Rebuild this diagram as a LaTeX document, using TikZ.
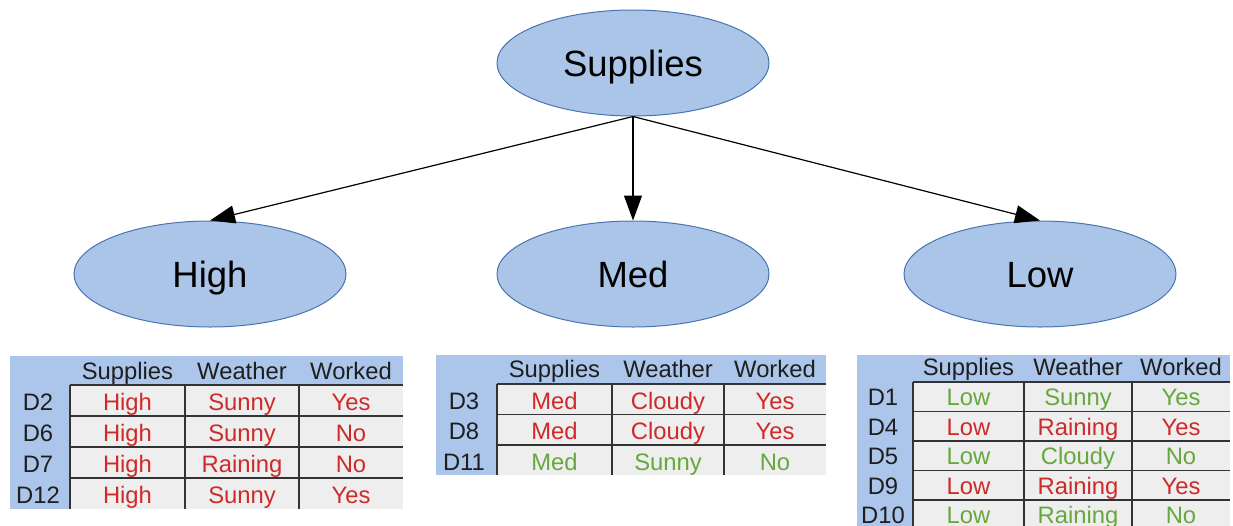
\documentclass[tikz,border=0pt]{standalone}
\usepackage{fontspec}
\setmainfont{Liberation Sans}
\usetikzlibrary{shapes.geometric,arrows.meta}
\definecolor{ellfill}{HTML}{ABC5E8}
\definecolor{elldraw}{HTML}{4A74B0}
\definecolor{tblue}{HTML}{ABC6EA}
\definecolor{cellgrey}{HTML}{EEEEEE}
\definecolor{rd}{HTML}{CE2A2A}
\definecolor{gn}{HTML}{66A83E}
\definecolor{txt}{HTML}{1E1E1E}
\tikzset{
  ell/.style={ellipse,draw=elldraw,fill=ellfill,line width=1pt,minimum width=272pt,minimum height=106pt,inner sep=0pt,
    font=\fontsize{36.5}{40}\selectfont,text=black,text height=26pt,text depth=0pt},
  conn/.style={line width=1.2pt,draw=black,-{Triangle[length=25pt,width=18pt]}},
  gridl/.style={line width=1.3pt,draw=black!80},
  hd/.style={anchor=base,inner sep=0pt,font=\fontsize{23.8}{26}\selectfont,text=txt},
  cl/.style={anchor=base,inner sep=0pt,font=\fontsize{23.8}{26}\selectfont}
}
\begin{document}
\begin{tikzpicture}[x=1pt,y=1pt]
\useasboundingbox (0,0) rectangle (1233,-525);
\clip (0,0) rectangle (1233,-525);
% ellipses
\node[ell] (sup) at (633,-63) {Supplies};
\node[ell] (high) at (210,-274) {High};
\node[ell] (med) at (633,-274) {Med};
\node[ell] (low) at (1040,-274) {Low};
\draw[conn] (sup.south) -- (high.north);
\draw[conn] (sup.south) -- (med.north);
\draw[conn] (sup.south) -- (low.north);
% ---------- table 1 ----------
\fill[tblue] (10,-356) rectangle (403,-509);
\fill[cellgrey] (70,-385) rectangle (403,-509);
\foreach \k in {0,...,3} \draw[gridl] (70,{-385-31*\k}) -- (403,{-385-31*\k});
\foreach \x in {70,185,299} \draw[gridl] (\x,-385) -- (\x,-509);
\node[hd] (t1hs) at (127.5,-379) {Supplies};
\node[hd] (t1hw) at (242,-379) {Weather};
\node[hd] (t1hk) at (351,-379) {Worked};
\foreach \lab/\a/\b/\c/\ka/\kb/\kc [count=\i] in {D2/High/Sunny/Yes/rd/rd/rd, D6/High/Sunny/No/rd/rd/rd, D7/High/Raining/No/rd/rd/rd, D12/High/Sunny/Yes/rd/rd/rd}{
  \pgfmathsetmacro\y{-385-31*(\i-1)-25}
  \node[hd] (t1l\i) at (38,\y) {\lab};
  \node[cl,text=\ka] (t1a\i) at (127.5,\y) {\a};
  \node[cl,text=\kb] (t1b\i) at (242,\y) {\b};
  \node[cl,text=\kc] (t1c\i) at (351,\y) {\c};
}
% ---------- table 2 ----------
\fill[tblue] (436,-355) rectangle (826,-475);
\fill[cellgrey] (497,-384) rectangle (826,-475);
\foreach \k in {0,...,2} \draw[gridl] (497,{-384-30.5*\k}) -- (826,{-384-30.5*\k});
\foreach \x in {497,612,724} \draw[gridl] (\x,-384) -- (\x,-475);
\node[hd] (t2hs) at (554.5,-377) {Supplies};
\node[hd] (t2hw) at (668,-377) {Weather};
\node[hd] (t2hk) at (775,-377) {Worked};
\foreach \lab/\a/\b/\c/\ka/\kb/\kc [count=\i] in {D3/Med/Cloudy/Yes/rd/rd/rd, D8/Med/Cloudy/Yes/rd/rd/rd, D11/Med/Sunny/No/gn/gn/gn}{
  \pgfmathsetmacro\y{-384-30.5*(\i-1)-25}
  \node[hd] (t2l\i) at (464,\y) {\lab};
  \node[cl,text=\ka] (t2a\i) at (554.5,\y) {\a};
  \node[cl,text=\kb] (t2b\i) at (668,\y) {\b};
  \node[cl,text=\kc] (t2c\i) at (775,\y) {\c};
}
% ---------- table 3 ----------
\fill[tblue] (857,-355) rectangle (1230,-530);
\fill[cellgrey] (913,-382) rectangle (1230,-530);
\foreach \k in {0,...,4} \draw[gridl] (913,{-382-29.5*\k}) -- (1230,{-382-29.5*\k});
\foreach \x in {913,1024,1132} \draw[gridl] (\x,-382) -- (\x,-530);
\node[hd] (t3hs) at (968.5,-375) {Supplies};
\node[hd] (t3hw) at (1078,-375) {Weather};
\node[hd] (t3hk) at (1181,-375) {Worked};
\foreach \lab/\a/\b/\c/\ka/\kb/\kc [count=\i] in {D1/Low/Sunny/Yes/gn/gn/gn, D4/Low/Raining/Yes/rd/rd/rd, D5/Low/Cloudy/No/gn/gn/gn, D9/Low/Raining/Yes/rd/rd/rd, D10/Low/Raining/No/gn/gn/gn}{
  \pgfmathsetmacro\y{-382-29.5*(\i-1)-23.5}
  \node[hd] (t3l\i) at (883,\y) {\lab};
  \node[cl,text=\ka] (t3a\i) at (968.5,\y) {\a};
  \node[cl,text=\kb] (t3b\i) at (1078,\y) {\b};
  \node[cl,text=\kc] (t3c\i) at (1181,\y) {\c};
}
\end{tikzpicture}
\end{document}
